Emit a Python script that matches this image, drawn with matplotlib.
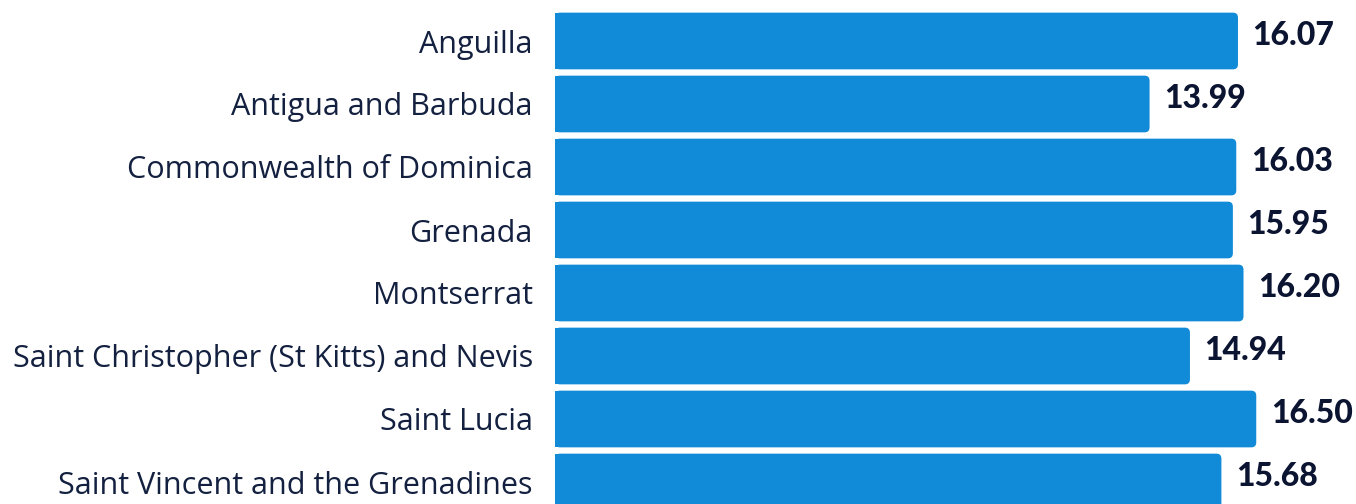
import matplotlib
matplotlib.use("Agg")
import matplotlib.pyplot as plt
from matplotlib.patches import FancyBboxPatch

categories = ["Anguilla", "Antigua and Barbuda", "Commonwealth of Dominica", "Grenada",
              "Montserrat", "Saint Christopher (St Kitts) and Nevis", "Saint Lucia",
              "Saint Vincent and the Grenadines"]
values = [16.07, 13.99, 16.03, 15.95, 16.20, 14.94, 16.50, 15.68]
value_labels = ["16.07", "13.99", "16.03", "15.95", "16.20", "14.94", "16.50", "15.68"]

W, H = 1356, 504
fig = plt.figure(figsize=(W / 100, H / 100), dpi=100)
left_px = 555
ax = fig.add_axes([left_px / W, 0, 1 - left_px / W, 1])
px_per_unit = 42.5
ax.set_xlim(0, (W - left_px) / px_per_unit)
pitch = 63
top_center = 41
ax.set_ylim((H - top_center) / pitch, -top_center / pitch)

bar_color = "#118AD8"
text_color = "#13203F"
bh = 0.9
ypos = list(range(len(categories)))
bars = ax.barh(ypos, values, height=bh, color=bar_color, alpha=0)

r_px = 5
rx = r_px / px_per_unit
ry = r_px / pitch
for b in bars:
    x0, y0, w, h = b.get_x(), b.get_y(), b.get_width(), b.get_height()
    rounded = FancyBboxPatch((x0, y0), w, h, boxstyle=f"round,pad=0,rounding_size={rx}",
                             mutation_aspect=ry / rx, facecolor=bar_color, edgecolor="none")
    ax.add_patch(rounded)
    sq = plt.Rectangle((x0, y0), w / 2, h, facecolor=bar_color, edgecolor="none")
    ax.add_patch(sq)

for y, v, lab in zip(ypos, values, value_labels):
    ax.annotate(lab, (v, y), xytext=(10.5, 4), textcoords="offset points", ha="left", va="center",
                fontsize=23, fontweight="black", family=["Lato", "DejaVu Sans"], color="#0B1430")

ax.set_yticks(ypos)
ax.set_yticklabels(categories, fontsize=22, color=text_color, family=["Open Sans", "DejaVu Sans"])
ax.tick_params(axis="y", length=0, pad=16)
ax.set_xticks([])
for s in ax.spines.values():
    s.set_visible(False)

fig.savefig("out.png", dpi=100)
